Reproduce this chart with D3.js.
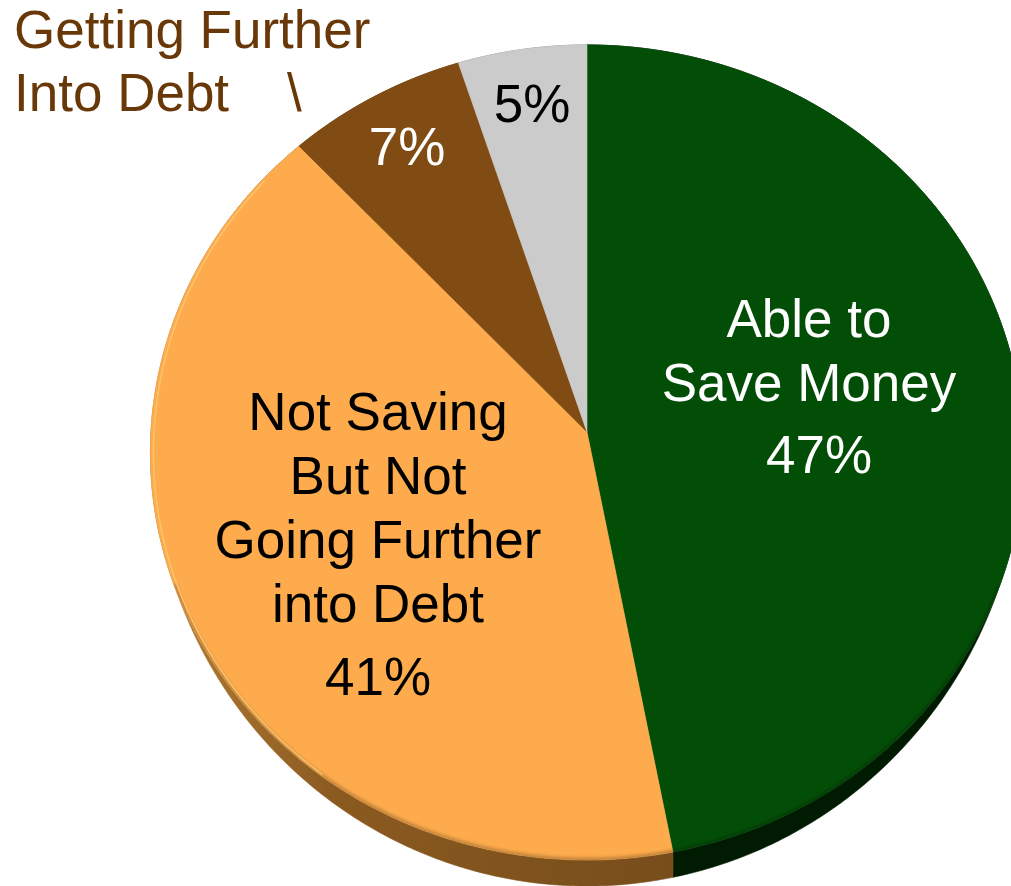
<!DOCTYPE html>
<html>
<head>
<meta charset="utf-8">
<script src="https://cdn.jsdelivr.net/npm/d3@7"></script>
<style>
  html, body { margin: 0; padding: 0; background: #ffffff; overflow: hidden; }
  svg { display: block; }
  text { font-family: "Liberation Sans", Arial, Helvetica, sans-serif; }
</style>
</head>
<body>
<svg id="chart" width="1011" height="886"></svg>
<script>
// Household finances: share of respondents in each situation
const categories = [
  "Able to Save Money",
  "Not Saving But Not Going Further into Debt",
  "Getting Further Into Debt",
  "Don't Know"
];
const shares = [47, 41, 7, 5];
const percentLabels = ["47%", "41%", "7%", "5%"];
const insideLines = [
  ["Able to", "Save Money"],
  ["Not Saving", "But Not", "Going Further", "into Debt"],
  [],
  []
];
const calloutLines = ["Getting Further", "Into Debt"];

const svg = d3.select("#chart");
const defs = svg.append("defs");

// palette
const topColor = d3.scaleOrdinal().domain(categories)
  .range(["#034e07", "#fdab4c", "#804c13", "#cbcbcb"]);
const sideColor = d3.scaleOrdinal().domain(categories)
  .range(["#001b02", "url(#orangeSide)", "#5e3609", "#8c8c8c"]);

// tilted disc seen in slight perspective
const view = { cx: 587, cy: 432, rx: 436, ry: 406.5, persp: 0.0503 };
// visible wall height: tallest at the front, fading out toward the sides
const wall = d3.scaleLinear().domain([-0.38, -1]).range([0, 26]).clamp(true);

function project(theta, withWall = false) {
  const u = Math.sin(theta), v = Math.cos(theta);
  const d = 1 + view.persp * v;
  const dy = withWall ? wall(v) : 0;
  return [view.cx + view.rx * u / d, view.cy - view.ry * v / d + dy];
}
function arcPoints(a0, a1, withWall = false) {
  const n = Math.max(2, Math.ceil((a1 - a0) / (Math.PI / 360)));
  return d3.range(n + 1).map(i => project(a0 + (a1 - a0) * i / n, withWall));
}

const pie = d3.pie().sort(null).value(d => d)(shares);
const line = d3.line().curve(d3.curveLinear);

// gradients and filters
const og = defs.append("linearGradient").attr("id", "orangeSide")
  .attr("gradientUnits", "userSpaceOnUse")
  .attr("x1", 150).attr("y1", 0).attr("x2", 680).attr("y2", 0);
og.append("stop").attr("offset", 0).attr("stop-color", "#b57e36");
og.append("stop").attr("offset", 0.35).attr("stop-color", "#8a5a20");
og.append("stop").attr("offset", 1).attr("stop-color", "#774d1b");

defs.append("filter").attr("id", "soft")
  .append("feGaussianBlur").attr("stdDeviation", 1.6);

// full top outline for clipping edge effects
defs.append("clipPath").attr("id", "topClip")
  .append("path")
  .attr("d", line(arcPoints(0, 2 * Math.PI)) + "Z");

// side walls
const sides = svg.append("g").attr("class", "sides");
pie.forEach((s, i) => {
  const top = arcPoints(s.startAngle, s.endAngle, false);
  const bottom = arcPoints(s.startAngle, s.endAngle, true).reverse();
  sides.append("path")
    .attr("d", line(top.concat(bottom)) + "Z")
    .attr("fill", sideColor(categories[i]))
    .attr("stroke", sideColor(categories[i]))
    .attr("stroke-width", 0.6);
});

// top faces
const tops = svg.append("g").attr("class", "tops");
pie.forEach((s, i) => {
  const pts = [[view.cx, view.cy]].concat(arcPoints(s.startAngle, s.endAngle));
  tops.append("path")
    .attr("d", line(pts) + "Z")
    .attr("fill", topColor(categories[i]))
    .attr("stroke", topColor(categories[i]))
    .attr("stroke-width", 0.6)
    .attr("stroke-linejoin", "round");
});

// soft shading where the top face meets the front wall
svg.append("path")
  .attr("d", line(arcPoints(Math.PI * 0.62, Math.PI * 1.38)))
  .attr("fill", "none")
  .attr("stroke", "#000")
  .attr("stroke-opacity", 0.22)
  .attr("stroke-width", 5)
  .attr("filter", "url(#soft)")
  .attr("clip-path", "url(#topClip)");

// light rim on the left of the disc
svg.append("path")
  .attr("d", line(arcPoints(Math.PI * 1.2, Math.PI * 1.72).map(p => [p[0] + 3, p[1]])))
  .attr("fill", "none")
  .attr("stroke", "#ffc873")
  .attr("stroke-opacity", 0.8)
  .attr("stroke-width", 1.6)
  .attr("clip-path", "url(#topClip)");

// labels
const fs = 53;
const lab = svg.append("g").attr("font-size", fs);

function block(lines, x, baselines, color) {
  const t = lab.append("text").attr("text-anchor", "middle").attr("fill", color);
  lines.forEach((l, k) => t.append("tspan").attr("x", x).attr("y", baselines[k]).text(l));
}

block(insideLines[0], 809, [337, 401], "#ffffff");
lab.append("text").attr("x", 819).attr("y", 473).attr("text-anchor", "middle")
  .attr("fill", "#ffffff").text(percentLabels[0]);

block(insideLines[1], 378, [430, 494, 558, 622], "#000000");
lab.append("text").attr("x", 378).attr("y", 695).attr("text-anchor", "middle")
  .attr("fill", "#000000").text(percentLabels[1]);

lab.append("text").attr("x", 407).attr("y", 165).attr("text-anchor", "middle")
  .attr("fill", "#ffffff").text(percentLabels[2]);

lab.append("text").attr("x", 532).attr("y", 122).attr("text-anchor", "middle")
  .attr("fill", "#000000").text(percentLabels[3]);

// callout for the small debt slice
const callout = lab.append("g").attr("fill", "#693808");
callout.append("text").attr("x", 14).attr("y", 48).text(calloutLines[0]);
callout.append("text").attr("x", 14).attr("y", 111).text(calloutLines[1]);
callout.append("text").attr("x", 287).attr("y", 111).text("\\");
</script>
</body>
</html>
